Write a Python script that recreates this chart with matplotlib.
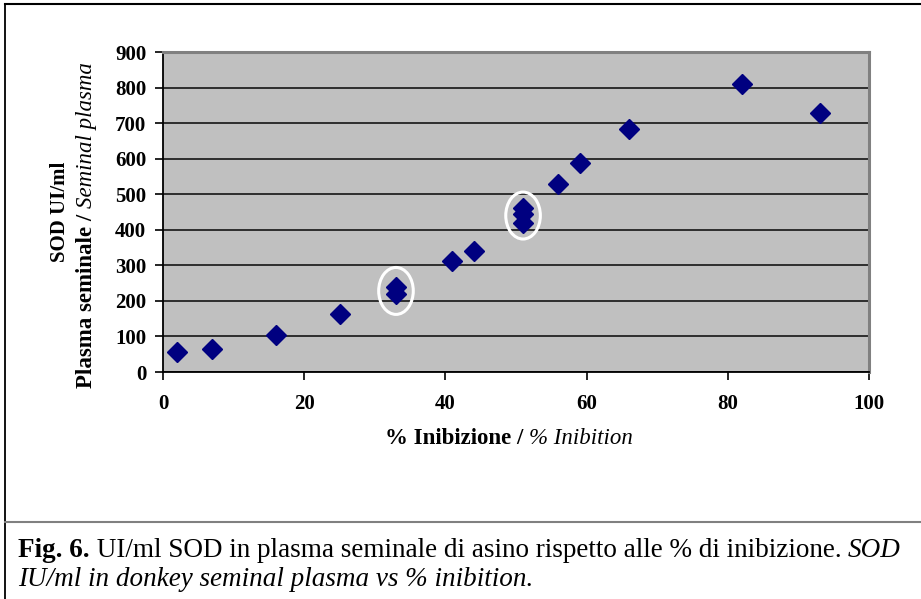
import matplotlib.pyplot as plt
from matplotlib.patches import Ellipse
from matplotlib.lines import Line2D

# % inhibition vs SOD UI/ml in seminal plasma
inhibition = [2, 7, 16, 25, 33, 33, 41, 44, 51, 51, 51, 56, 59, 66, 82, 93]
sod = [55, 65, 105, 162, 238, 218, 313, 341, 460, 443, 420, 528, 589, 684, 809, 729]

# groups that are circled in the figure
circled_x = [33, 51]

x_ticks = [0, 20, 40, 60, 80, 100]
y_ticks = [0, 100, 200, 300, 400, 500, 600, 700, 800, 900]

W, H = 921, 599
SERIF = 'Liberation Serif'

fig = plt.figure(figsize=(W / 100, H / 100), dpi=100)
fig.patch.set_facecolor('white')

ax = fig.add_axes([163 / W, 1 - 372 / H, (869 - 163) / W, (372 - 52) / H])
ax.set_facecolor('#c0c0c0')
ax.set_xlim(0, 100)
ax.set_ylim(0, 900)
ax.set_xticks(x_ticks)
ax.set_yticks(y_ticks)
ax.yaxis.grid(True, color='#222222', lw=1.3)
ax.set_axisbelow(True)
for s in ['top', 'right']:
    ax.spines[s].set_color('#808080')
    ax.spines[s].set_linewidth(2.2)
for s in ['left', 'bottom']:
    ax.spines[s].set_color('black')
    ax.spines[s].set_linewidth(1.3)
ax.tick_params(direction='out', length=6, width=1.2, color='black')
ax.tick_params(axis='x', pad=10)
ax.tick_params(axis='y', pad=6)
for lab in ax.get_xticklabels() + ax.get_yticklabels():
    lab.set_fontfamily(SERIF)
    lab.set_fontweight('bold')
    lab.set_fontsize(15)

ax.plot(inhibition, sod, 'D', color='#000080', ms=10, mec='#000080', zorder=3)

# white ellipses around the repeated measurements
for cx in circled_x:
    ys = [y for x, y in zip(inhibition, sod) if x == cx]
    cy = (max(ys) + min(ys)) / 2
    ax.add_patch(Ellipse((cx, cy), 4.9, 132, fill=False, ec='white', lw=2.2, zorder=4))

# y label: two lines, second mixed bold / italic
fig.text(60 / W, 1 - 212 / H, 'SOD UI/ml', rotation=90, ha='center', va='center',
         fontfamily=SERIF, fontweight='bold', fontsize=15)
t1 = fig.text(86 / W, 1 - 388 / H, 'Plasma seminale / ', rotation=90, rotation_mode='anchor',
              ha='left', va='center', fontfamily=SERIF, fontweight='bold', fontsize=16.5)
ax.annotate('Seminal plasma', xy=(0.5, 1), xycoords=t1, rotation=90,
            rotation_mode='anchor', ha='left', va='center',
            fontfamily=SERIF, fontstyle='italic', fontsize=16.5, annotation_clip=False)

# x label
x1 = fig.text(385 / W, 1 - 438 / H, '% Inibizione / ', ha='left', va='center',
              fontfamily=SERIF, fontweight='bold', fontsize=16.5)
ax.annotate('% Inibition', xy=(1, 0.5), xycoords=x1, ha='left', va='center',
            fontfamily=SERIF, fontstyle='italic', fontsize=16.5, annotation_clip=False)

# frame and caption separator
fig.add_artist(Line2D([5 / W, 5 / W], [0, 1 - 4 / H], color='black', lw=1.3, transform=fig.transFigure))
fig.add_artist(Line2D([5 / W, 1], [1 - 4 / H, 1 - 4 / H], color='black', lw=1.5, transform=fig.transFigure))
fig.add_artist(Line2D([5 / W, 1], [1 - 522 / H, 1 - 522 / H], color='#808080', lw=1.5, transform=fig.transFigure))

# caption
c1 = fig.text(18 / W, 1 - 557 / H, 'Fig. 6.', ha='left', va='baseline',
              fontfamily=SERIF, fontweight='bold', fontsize=19.5)
c2 = ax.annotate(' UI/ml SOD in plasma seminale di asino rispetto alle % di inibizione. ',
                 xy=(1, 0), xycoords=c1, ha='left', va='bottom',
                 fontfamily=SERIF, fontsize=19.5, annotation_clip=False)
ax.annotate('SOD', xy=(1, 0), xycoords=c2, ha='left', va='bottom',
            fontfamily=SERIF, fontstyle='italic', fontsize=19.5, annotation_clip=False)
fig.text(18 / W, 1 - 586 / H, 'IU/ml in donkey seminal plasma vs % inibition.', ha='left',
         va='baseline', fontfamily=SERIF, fontstyle='italic', fontsize=19.5)

fig.savefig('out.png', dpi=100)
